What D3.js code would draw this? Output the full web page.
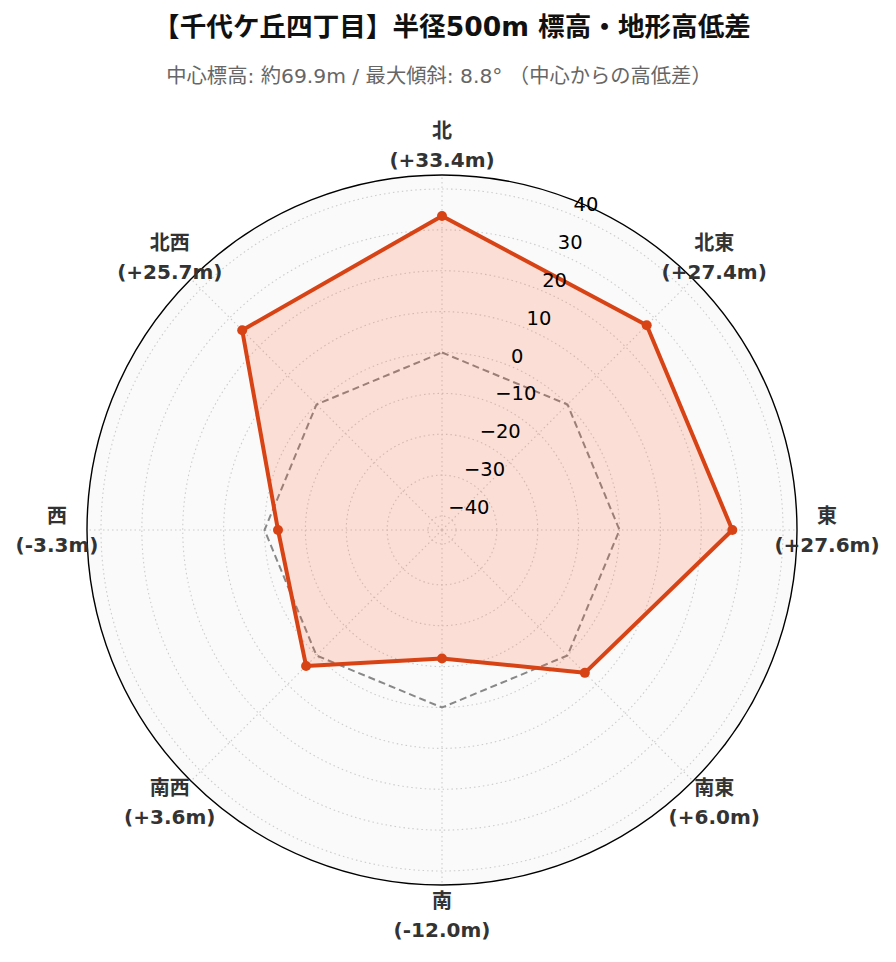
<!DOCTYPE html>
<html><head><meta charset="utf-8">
<script src="https://cdn.jsdelivr.net/npm/d3@7"></script>
<style>
html,body{margin:0;padding:0;background:#fff;}
svg{display:block;font-family:"DejaVu Sans","Noto Sans CJK JP",sans-serif;}
</style></head>
<body><svg id="chart" width="896" height="962"></svg>
<script>
const titleText = "【千代ケ丘四丁目】半径500m 標高・地形高低差";
const subtitleText = "中心標高: 約69.9m / 最大傾斜: 8.8° （中心からの高低差）";
const directions = ["北","北東","東","南東","南","南西","西","北西"];
const diffs = [33.4, 27.4, 27.6, 6.0, -12.0, 3.6, -3.3, 25.7];
const diffLabels = ["+33.4m","+27.4m","+27.6m","+6.0m","-12.0m","+3.6m","-3.3m","+25.7m"];
const rTicks = [-40,-30,-20,-10,0,10,20,30,40];
const rLimit = 43.42;

const svg = d3.select("#chart");
const cx = 442, cy = 530, R = 355;
const g = svg.append("g").attr("transform", `translate(${cx},${cy})`);

const r = d3.scaleLinear().domain([-rLimit, rLimit]).range([0, R]);
const ang = d3.scaleLinear().domain([0, directions.length]).range([0, 2*Math.PI]);
const px = (a, rad) => rad * Math.sin(a);
const py = (a, rad) => -rad * Math.cos(a);

// background
g.append("circle").attr("r", R).attr("fill", "#fafafa");

// circular grid
g.selectAll("circle.grid").data(rTicks).enter().append("circle")
  .attr("class","grid").attr("r", d => r(d))
  .attr("fill","none").attr("stroke","#cccccc").attr("stroke-width",1.1)
  .attr("stroke-dasharray","1.5,3");
// angular grid
g.selectAll("line.agrid").data(directions).enter().append("line")
  .attr("x1",0).attr("y1",0)
  .attr("x2",(d,i)=>px(ang(i),R)).attr("y2",(d,i)=>py(ang(i),R))
  .attr("stroke","#cccccc").attr("stroke-width",1.1).attr("stroke-dasharray","1.5,3");

// zero reference
const line = d3.lineRadial().angle((d,i)=>ang(i)).radius(d=>r(d)).curve(d3.curveLinearClosed);
g.append("path").datum(directions.map(()=>0)).attr("d", line)
  .attr("fill","none").attr("stroke","#888888").attr("stroke-width",2)
  .attr("stroke-dasharray","7,4");

// data fill + line
g.append("path").datum(diffs).attr("d", line)
  .attr("fill","#ff5722").attr("fill-opacity",0.17).attr("stroke","none");
g.append("path").datum(diffs).attr("d", line)
  .attr("fill","none").attr("stroke","#d84315").attr("stroke-width",4)
  .attr("stroke-linejoin","round");
g.selectAll("circle.pt").data(diffs).enter().append("circle")
  .attr("class","pt").attr("cx",(d,i)=>px(ang(i),r(d))).attr("cy",(d,i)=>py(ang(i),r(d)))
  .attr("r",5).attr("fill","#d84315");

// outer circle
g.append("circle").attr("r", R).attr("fill","none").attr("stroke","#000").attr("stroke-width",1.4);

// radial tick labels at 22.5°
const la = Math.PI/8;
g.selectAll("text.rt").data(rTicks).enter().append("text")
  .attr("x", d => px(la, r(d)) + 1)
  .attr("y", d => py(la, r(d)) - 3.5)
  .attr("text-anchor","start")
  .attr("font-size","19.5px").attr("fill","#000")
  .text(d => d < 0 ? "\u2212" + Math.abs(d) : String(d));

// direction labels
const LR = 385;
const lab = g.selectAll("text.dir").data(directions).enter().append("text")
  .attr("text-anchor","middle").attr("font-size","20px").attr("font-weight","bold").attr("fill","#333");
lab.append("tspan").attr("x",(d,i)=>px(ang(i),LR)).attr("y",(d,i)=>py(ang(i),LR) - 7.5)
  .text(d=>d);
lab.append("tspan").attr("x",(d,i)=>px(ang(i),LR)).attr("y",(d,i)=>py(ang(i),LR) + 21.5)
  .text((d,i)=>"(" + diffLabels[i] + ")");

// titles
svg.append("text").attr("x",452).attr("y",36).attr("text-anchor","middle")
  .attr("font-size","26.6px").attr("font-weight","bold").attr("fill","#111").text(titleText);
svg.append("text").attr("x",439).attr("y",83).attr("text-anchor","middle")
  .attr("font-size","20.3px").attr("fill","#666").text(subtitleText);
</script></body></html>
